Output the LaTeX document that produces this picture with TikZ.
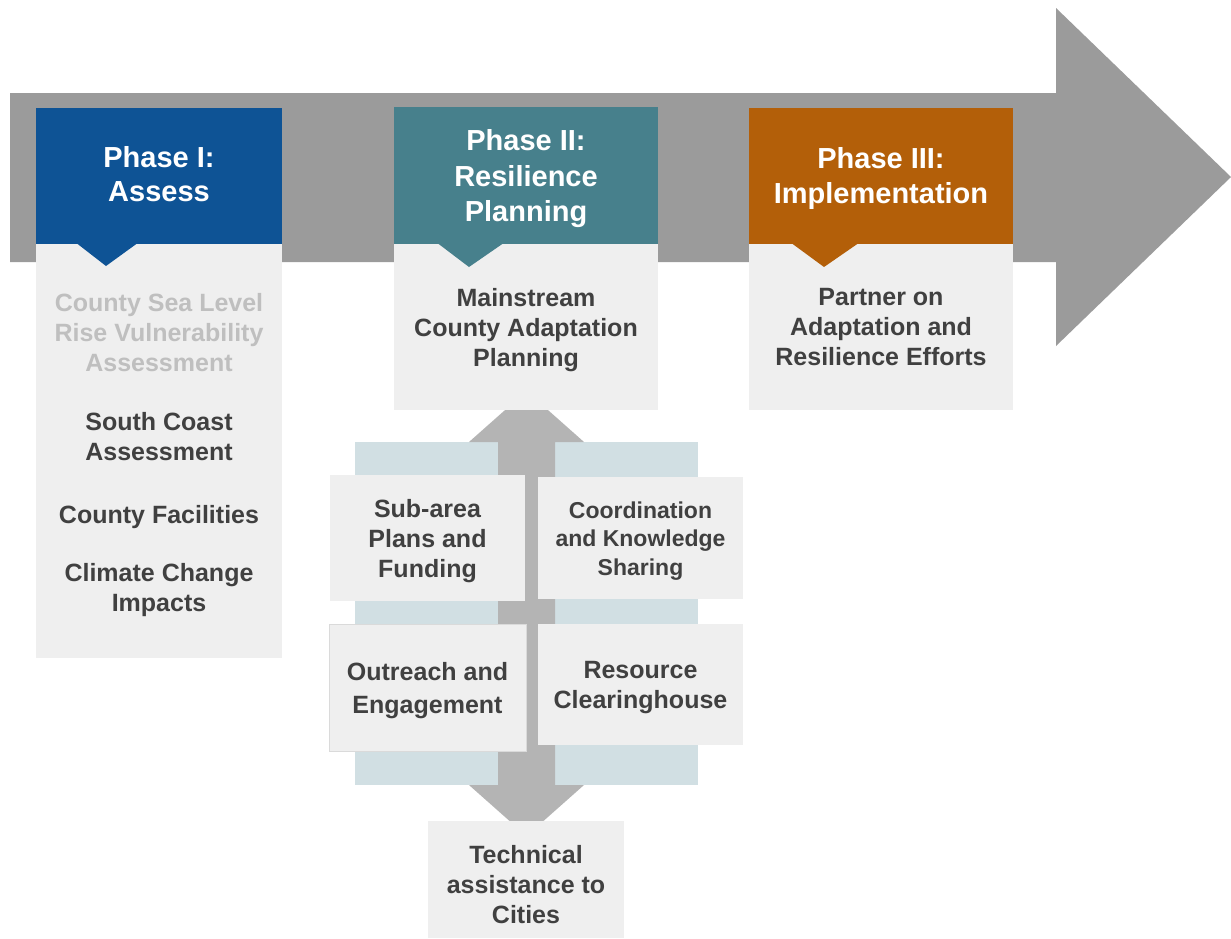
\documentclass[tikz,border=0pt]{standalone}
\usepackage{fontspec}
\setmainfont{Liberation Sans}
\definecolor{arrowgray}{HTML}{9B9B9B}
\definecolor{shaftgray}{HTML}{B4B4B4}
\definecolor{lightblue}{HTML}{D1DFE3}
\definecolor{boxgray}{HTML}{EFEFEF}
\definecolor{boxedge}{HTML}{DADADA}
\definecolor{pblue}{HTML}{0E5395}
\definecolor{pteal}{HTML}{47808C}
\definecolor{porange}{HTML}{B35F09}
\definecolor{textdark}{HTML}{404040}
\definecolor{faded}{HTML}{BFBFBF}
\tikzset{
  rbox/.style={draw=none, inner sep=0pt, outer sep=0pt, anchor=north west},
  gbox/.style={rbox, fill=boxgray},
  headtxt/.style={font=\fontsize{29}{#1}\selectfont\bfseries, text=white, align=center, inner sep=0pt, anchor=north, execute at begin node={\rule{0pt}{24pt}}},
  bodytxt/.style={font=\fontsize{25}{#1}\selectfont\bfseries, text=textdark, align=center, inner sep=0pt, anchor=north, execute at begin node={\rule{0pt}{20pt}}},
  smalltxt/.style={font=\fontsize{23}{#1}\selectfont\bfseries, text=textdark, align=center, inner sep=0pt, anchor=north, execute at begin node={\rule{0pt}{19pt}}},
}
\begin{document}
\begin{tikzpicture}[x=1pt,y=-1pt]
\useasboundingbox[fill=white] (0,0) rectangle (1231,938);

% big arrow
\fill[arrowgray] (10,93) -- (1056,93) -- (1056,8) -- (1231,177) -- (1056,346) -- (1056,262) -- (10,262) -- cycle;

% phase I
\node[gbox, minimum width=246pt, minimum height=414pt] (p1body) at (36,244) {};
\node[rbox, fill=pblue, minimum width=246pt, minimum height=136pt] (p1head) at (36,108) {};
\fill[pblue] (77,243.5) -- (106,266) -- (137,243.5) -- cycle;

% phase II
\node[gbox, minimum width=264pt, minimum height=166pt] (p2body) at (394,244) {};
\node[rbox, fill=pteal, minimum width=264pt, minimum height=137pt] (p2head) at (394,107) {};
\fill[pteal] (438,243.5) -- (469,267) -- (503,243.5) -- cycle;

% phase III
\node[gbox, minimum width=264pt, minimum height=166pt] (p3body) at (749,244) {};
\node[rbox, fill=porange, minimum width=264pt, minimum height=136pt] (p3head) at (749,108) {};
\fill[porange] (792,243.5) -- (824,267) -- (858,243.5) -- cycle;

% light blue bands
\node[rbox, fill=lightblue, minimum width=143pt, minimum height=343pt] (bandL) at (355,442) {};
\node[rbox, fill=lightblue, minimum width=143pt, minimum height=343pt] (bandR) at (555,442) {};

% double arrow
\fill[shaftgray] (498,442) -- (469,442) -- (526.5,391) -- (584,442) -- (555,442) -- (555,785) -- (584,785) -- (526.5,836) -- (469,785) -- (498,785) -- cycle;

% redraw phase II body over arrow tip
\node[gbox, minimum width=264pt, minimum height=166pt] (p2bodytop) at (394,244) {};
\fill[pteal] (438,243.5) -- (469,267) -- (503,243.5) -- cycle;

% four boxes
\node[gbox, minimum width=195pt, minimum height=126pt] (subarea) at (330,475) {};
\node[gbox, minimum width=205pt, minimum height=122pt] (coord) at (538,477) {};
\node[gbox, draw=boxedge, line width=1pt, minimum width=197pt, minimum height=127pt] (outreach) at (329,624) {};
\node[gbox, minimum width=205pt, minimum height=121pt] (resource) at (538,624) {};
\node[gbox, minimum width=196pt, minimum height=117pt] (tech) at (428,821) {};

% header texts
\node[headtxt=34] (t1) at (159,146.4) {Phase I:\\Assess};
\node[headtxt=35.7] (t2) at (526,129.2) {Phase II:\\Resilience\\Planning};
\node[headtxt=35] (t3) at (881,147.2) {Phase III:\\Implementation};

% phase I body texts
\node[bodytxt=30, text=faded] (b1a) at (159,293.1) {County Sea Level\\Rise Vulnerability\\Assessment};
\node[bodytxt=30] (b1b) at (159,412.5) {South Coast\\Assessment};
\node[bodytxt=30] (b1c) at (159,503.5) {County Facilities};
\node[bodytxt=30] (b1d) at (159,563.5) {Climate Change\\Impacts};

% phase II / III body texts
\node[bodytxt=30] (b2) at (526,288.1) {Mainstream\\County Adaptation\\Planning};
\node[bodytxt=30] (b3) at (881,288.1) {Partner on\\Adaptation and\\Resilience Efforts};

% sub boxes texts
\node[bodytxt=30] (tsub) at (427.5,498.9) {Sub-area\\Plans and\\Funding};
\node[smalltxt=28.3] (tcoord) at (640.5,501.7) {Coordination\\and Knowledge\\Sharing};
\node[bodytxt=33] (tout) at (427.5,661.9) {Outreach and\\Engagement};
\node[bodytxt=30] (tres) at (640.5,661.5) {Resource\\Clearinghouse};
\node[bodytxt=30] (ttech) at (526,845.3) {Technical\\assistance to\\Cities};
\end{tikzpicture}
\end{document}
